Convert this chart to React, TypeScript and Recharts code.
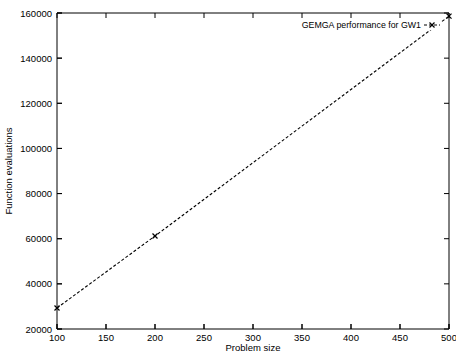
import React from "react";
import { LineChart, Line, XAxis, YAxis, ReferenceLine } from "recharts";

// GEMGA performance for GW1
const problemSizes = [100, 200, 500];
const evaluations = [29300, 61200, 158600];

const xTicks = [100, 150, 200, 250, 300, 350, 400, 450, 500];
const yTicks = [20000, 40000, 60000, 80000, 100000, 120000, 140000, 160000];

const data = problemSizes.map((size, i) => ({ size, evals: evaluations[i] }));

const X_MIN = 100;
const X_MAX = 500;
const Y_MIN = 20000;
const Y_MAX = 160000;

const FONT = "'Liberation Sans', Arial, Helvetica, sans-serif";
// inward tick length (~5px) expressed in data units of a 392x316 px plot
const X_TICK_LEN = (5 * (X_MAX - X_MIN)) / 392;
const Y_TICK_LEN = (5 * (Y_MAX - Y_MIN)) / 316;

// tickSize is -5 (inward), so the label anchor sits 5px inside the frame
const BottomTick = (props: any) => {
  const { x, y, payload } = props;
  return (
    <text x={x} y={y + 17} textAnchor="middle" fill="#000" fontSize={9.5} fontFamily={FONT}>
      {payload.value}
    </text>
  );
};

const LeftTick = (props: any) => {
  const { x, y, payload } = props;
  return (
    <text x={x - 10} y={y + 3.5} textAnchor="end" fill="#000" fontSize={9.5} fontFamily={FONT}>
      {payload.value}
    </text>
  );
};

const Cross = (props: any) => {
  const { cx, cy } = props;
  if (cx == null || cy == null) return null;
  const s = 2.5;
  return (
    <g stroke="#000" strokeWidth={1.2}>
      <line x1={cx - s} y1={cy - s} x2={cx + s} y2={cy + s} />
      <line x1={cx - s} y1={cy + s} x2={cx + s} y2={cy - s} />
    </g>
  );
};

const LegendBox = () => (
  <div
    style={{
      position: "absolute",
      top: 20,
      right: 15,
      display: "flex",
      alignItems: "center",
      fontFamily: FONT,
      fontSize: 8.8,
      color: "#000",
      background: "#fff",
    }}
  >
    <span>GEMGA performance for GW1</span>
    <svg width={18} height={8} style={{ marginLeft: 2 }}>
      <line x1={1} y1={4} x2={17} y2={4} stroke="#000" strokeWidth={1} strokeDasharray="3 2" />
      <line x1={6.5} y1={1.5} x2={11.5} y2={6.5} stroke="#000" strokeWidth={1.2} />
      <line x1={6.5} y1={6.5} x2={11.5} y2={1.5} stroke="#000" strokeWidth={1.2} />
    </svg>
  </div>
);

export default function App() {
  return (
    <div style={{ position: "absolute", left: 0, top: 0, width: 456, height: 352, background: "#fff" }}>
      <LineChart
        width={456}
        height={352}
        data={data}
        margin={{ top: 3, right: 2, left: 0, bottom: 0 }}
      >
        <XAxis
          xAxisId="bottom"
          dataKey="size"
          type="number"
          domain={[X_MIN, X_MAX]}
          ticks={xTicks}
          interval={0}
          orientation="bottom"
          height={23}
          stroke="#000"
          tickLine={{ stroke: "#000" }}
          tickSize={-5}
          tickMargin={0}
          tick={<BottomTick />}
          label={{
            value: "Problem size",
            position: "insideBottom",
            offset: 1,
            style: { fill: "#000", fontSize: 9.5, fontFamily: FONT },
          }}
        />
        <XAxis
          xAxisId="top"
          dataKey="size"
          type="number"
          domain={[X_MIN, X_MAX]}
          ticks={xTicks}
          interval={0}
          orientation="top"
          height={10}
          stroke="#000"
          tickLine={{ stroke: "#000" }}
          tickSize={-5}
          tick={false}
        />
        <YAxis
          yAxisId="left"
          type="number"
          domain={[Y_MIN, Y_MAX]}
          ticks={yTicks}
          interval={0}
          orientation="left"
          width={57}
          stroke="#000"
          tickLine={{ stroke: "#000" }}
          tickSize={-5}
          tickMargin={0}
          tick={<LeftTick />}
          label={{
            value: "Function evaluations",
            angle: -90,
            position: "insideLeft",
            offset: 9,
            style: { fill: "#000", fontSize: 9.5, fontFamily: FONT, textAnchor: "middle" },
          }}
        />
        <YAxis
          yAxisId="right"
          type="number"
          domain={[Y_MIN, Y_MAX]}
          ticks={yTicks}
          interval={0}
          orientation="right"
          width={5}
          stroke="#000"
          tickLine={{ stroke: "#000" }}
          tickSize={-5}
          tick={false}
        />

        {/* gnuplot-style inward ticks on all four borders */}
        {xTicks.map((t) => (
          <ReferenceLine
            key={`xb-${t}`}
            xAxisId="bottom"
            yAxisId="left"
            segment={[{ x: t, y: Y_MIN }, { x: t, y: Y_MIN + Y_TICK_LEN }]}
            stroke="#000"
            ifOverflow="visible"
          />
        ))}
        {xTicks.map((t) => (
          <ReferenceLine
            key={`xt-${t}`}
            xAxisId="bottom"
            yAxisId="left"
            segment={[{ x: t, y: Y_MAX }, { x: t, y: Y_MAX - Y_TICK_LEN }]}
            stroke="#000"
            ifOverflow="visible"
          />
        ))}
        {yTicks.map((t) => (
          <ReferenceLine
            key={`yl-${t}`}
            xAxisId="bottom"
            yAxisId="left"
            segment={[{ x: X_MIN, y: t }, { x: X_MIN + X_TICK_LEN, y: t }]}
            stroke="#000"
            ifOverflow="visible"
          />
        ))}
        {yTicks.map((t) => (
          <ReferenceLine
            key={`yr-${t}`}
            xAxisId="bottom"
            yAxisId="left"
            segment={[{ x: X_MAX, y: t }, { x: X_MAX - X_TICK_LEN, y: t }]}
            stroke="#000"
            ifOverflow="visible"
          />
        ))}

        {/* invisible series bound to the frame axes (top/right) */}
        <Line
          xAxisId="top"
          yAxisId="right"
          type="linear"
          dataKey="evals"
          stroke="none"
          dot={false}
          activeDot={false}
          isAnimationActive={false}
          legendType="none"
        />
        <Line
          xAxisId="bottom"
          yAxisId="left"
          type="linear"
          dataKey="evals"
          stroke="#000"
          strokeWidth={1.1}
          strokeDasharray="3 2"
          dot={<Cross />}
          activeDot={false}
          isAnimationActive={false}
          legendType="none"
        />
      </LineChart>
      <LegendBox />
    </div>
  );
}
